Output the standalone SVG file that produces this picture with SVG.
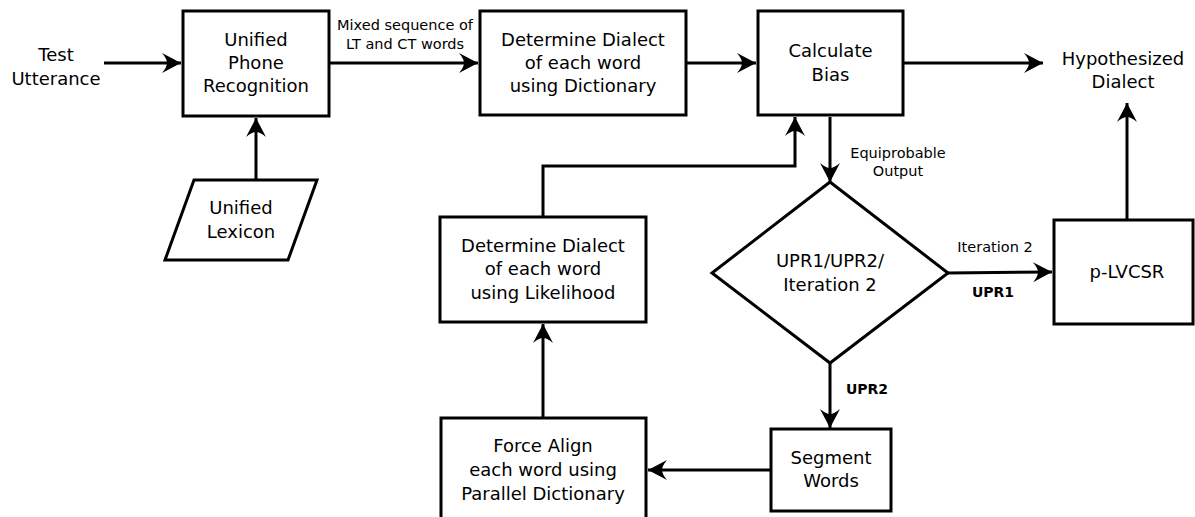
<svg xmlns="http://www.w3.org/2000/svg" width="1195" height="517" viewBox="0 0 1195 517">
<defs>
<marker id="arr" viewBox="-20 -11 22 22" refX="0" refY="0" markerWidth="22" markerHeight="22" markerUnits="userSpaceOnUse" orient="auto">
<path d="M0,0 L-19,-10 Q-14,-4 -14,0 Q-14,4 -19,10 Z" fill="#000"/>
</marker>
<style>
.box{fill:#fff;stroke:#000;stroke-width:3}
.t{font-family:"DejaVu Sans",sans-serif;font-size:18px;fill:#000;text-anchor:middle}
.s{font-family:"DejaVu Sans",sans-serif;font-size:14.5px;fill:#000;text-anchor:middle}
.b{font-family:"DejaVu Sans",sans-serif;font-size:14px;font-weight:bold;fill:#000;text-anchor:middle}
.c{fill:none;stroke:#000;stroke-width:3}
</style>
</defs>
<rect width="1195" height="517" fill="#fff"/>
<g id="connectors">
<line class="c" x1="104" y1="63" x2="181" y2="63" marker-end="url(#arr)"/>
<line class="c" x1="329" y1="63" x2="478" y2="63" marker-end="url(#arr)"/>
<line class="c" x1="686" y1="63" x2="756" y2="63" marker-end="url(#arr)"/>
<line class="c" x1="903" y1="63" x2="1043" y2="63" marker-end="url(#arr)"/>
<line class="c" x1="256" y1="180" x2="256" y2="118" marker-end="url(#arr)"/>
<line class="c" x1="830" y1="117" x2="830" y2="182" marker-end="url(#arr)"/>
<polyline class="c" points="543,217 543,166 795,166 795,117" marker-end="url(#arr)"/>
<line class="c" x1="948" y1="273" x2="1052" y2="272" marker-end="url(#arr)"/>
<line class="c" x1="1127" y1="220" x2="1127" y2="103" marker-end="url(#arr)"/>
<line class="c" x1="830" y1="363" x2="830" y2="428" marker-end="url(#arr)"/>
<line class="c" x1="771" y1="470" x2="648" y2="470" marker-end="url(#arr)"/>
<line class="c" x1="543" y1="418" x2="543" y2="324" marker-end="url(#arr)"/>
<text class="s" x="405" y="30">Mixed sequence of</text>
<text class="s" x="405" y="49">LT and CT words</text>
<text class="s" x="898" y="158">Equiprobable</text>
<text class="s" x="898" y="176">Output</text>
<text class="s" x="995" y="252">Iteration 2</text>
<text class="b" x="993" y="297">UPR1</text>
<text class="b" x="867" y="394">UPR2</text>
</g>
<g id="test-utterance">
<text class="t" x="56" y="61">Test</text>
<text class="t" x="56" y="85">Utterance</text>
</g>
<g id="unified-phone">
<rect class="box" x="183" y="11" width="146" height="105"/>
<text class="t" x="256" y="46">Unified</text>
<text class="t" x="256" y="69">Phone</text>
<text class="t" x="256" y="92">Recognition</text>
</g>
<g id="determine-dict">
<rect class="box" x="480" y="11" width="206" height="104"/>
<text class="t" x="583" y="46">Determine Dialect</text>
<text class="t" x="583" y="69">of each word</text>
<text class="t" x="583" y="92">using Dictionary</text>
</g>
<g id="calculate-bias">
<rect class="box" x="758" y="11" width="145" height="104"/>
<text class="t" x="830.5" y="57">Calculate</text>
<text class="t" x="830.5" y="81">Bias</text>
</g>
<g id="hypothesized">
<text class="t" x="1123" y="65">Hypothesized</text>
<text class="t" x="1123" y="88">Dialect</text>
</g>
<g id="unified-lexicon">
<polygon class="box" points="194,180 317,180 288,260 165,260"/>
<text class="t" x="241" y="214">Unified</text>
<text class="t" x="241" y="238">Lexicon</text>
</g>
<g id="determine-likelihood">
<rect class="box" x="440" y="217" width="206" height="105"/>
<text class="t" x="543" y="252">Determine Dialect</text>
<text class="t" x="543" y="275">of each word</text>
<text class="t" x="543" y="299">using Likelihood</text>
</g>
<g id="decision">
<polygon class="box" points="830,182 948,273 830,363 712,273"/>
<text class="t" x="830" y="267">UPR1/UPR2/</text>
<text class="t" x="830" y="291">Iteration 2</text>
</g>
<g id="p-lvcsr">
<rect class="box" x="1054" y="220" width="139" height="104"/>
<text class="t" x="1127" y="278">p-LVCSR</text>
</g>
<g id="segment-words">
<rect class="box" x="771" y="429" width="120" height="82"/>
<text class="t" x="831" y="464">Segment</text>
<text class="t" x="831" y="487">Words</text>
</g>
<g id="force-align">
<rect class="box" x="441" y="418" width="205" height="110"/>
<text class="t" x="543" y="452">Force Align</text>
<text class="t" x="543" y="476">each word using</text>
<text class="t" x="543" y="500">Parallel Dictionary</text>
</g>
</svg>
